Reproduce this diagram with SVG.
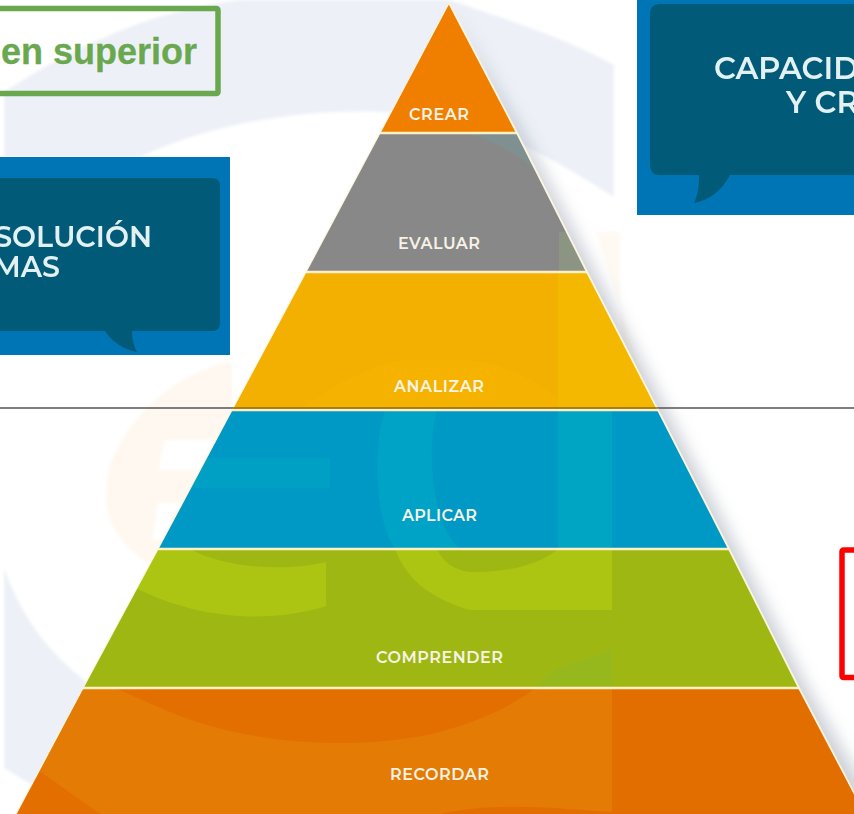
<svg xmlns="http://www.w3.org/2000/svg" width="854" height="814" viewBox="0 0 854 814">
  <style>
    .lbl{font-family:"Montserrat","Inter","Liberation Sans",sans-serif;font-weight:600;font-size:16px;fill:#f6f3e6;text-anchor:start}
    .box{font-family:"Montserrat","Inter","Open Sans",sans-serif;font-weight:600;font-size:28.500px;fill:#e4f1f3}
    .big{font-size:30.500px}
    .sep{stroke:#fdf0c4;stroke-width:2.4;fill:none}
  </style>
  <defs>
    <clipPath id="pyr"><polygon points="449,3 517,133 587,272 658,410 729,549 799,688 866,814 16,814 83,688 158,549 232,410 306,272 380,133"/></clipPath>
    <filter id="b1" x="-20%" y="-20%" width="140%" height="140%"><feGaussianBlur stdDeviation="0.5"/></filter>
    <filter id="b9" x="-20%" y="-20%" width="140%" height="140%"><feGaussianBlur stdDeviation="8"/></filter>
    <filter id="b2" x="-20%" y="-20%" width="140%" height="140%"><feGaussianBlur stdDeviation="1.5"/></filter>
  </defs>
  <rect width="854" height="814" fill="#fff"/>
  <g id="background">
    <path d="M4,157 L4,92 C90,35 170,8 240,0 L449,0 C510,20 570,40 614,65 L614,197 C570,170 510,130 440,118 C350,102 230,115 140,157 Z" fill="#edf1f7" filter="url(#b2)"/>
    <path d="M4,568 C30,640 70,670 110,700 L40,790 L4,768 Z" fill="#edf1f7" filter="url(#b2)"/>
    <path d="M232,362 C185,368 130,410 110,465 C98,510 112,540 150,565 L232,410 Z" fill="#fef8f0" filter="url(#b2)"/>
    <path d="M165,440 H215 L198,470 H158 Z M158,503 H180 L160,540 H152 Z" fill="#ffffff" filter="url(#b2)"/>
    <path d="M596,232 L620,232 L620,400 L650,400 Z" fill="#fef9f2" filter="url(#b2)"/>
    <polygon points="449,3 524,133 596,272 667,410 738,549 808,688 866,790 854,814 740,700 640,420 520,160" fill="#9ba3b0" opacity="0.5" filter="url(#b9)"/>
  </g>
  <g id="connectors">
    <line x1="0" y1="408" x2="854" y2="408" stroke="#555" stroke-width="1.6"/>
  </g>
  <g id="piramide">
    <g clip-path="url(#pyr)">
      <rect x="0" y="0" width="854" height="133" fill="#f07f00"/>
      <rect x="0" y="133" width="854" height="139" fill="#888888"/>
      <rect x="0" y="272" width="854" height="138" fill="#f4b000"/>
      <rect x="0" y="410" width="854" height="139" fill="#0098c4"/>
      <rect x="0" y="549" width="854" height="139" fill="#9fb713"/>
      <rect x="0" y="688" width="854" height="126" fill="#e37b05"/>

      <path d="M467,133 L520,133 L536,170 C515,152 490,140 467,133 Z" fill="#7f9090"/>
      <rect x="559" y="232" width="40" height="40" fill="#8c9484"/>
      <path d="M558,272 H670 V410 H558 Z" fill="#f5b800"/>
      <path d="M300,410 C340,380 390,355 427,360 C490,355 530,375 558,400 V410 Z" fill="#f5b300"/>

      <path d="M558,410 H612 V549 H558 Z" fill="#00a5c4"/>
      <path d="M385,410 H437 C428,440 428,520 460,549 H395 C375,520 372,450 385,410 Z" fill="#00a3c5"/>
      <path d="M200,458 H330 V488 H180 Z" fill="#009fc4"/>

      <path d="M150,549 H190 C225,568 285,572 326,562 V606 C270,624 195,620 130,585 Z" fill="#abc512"/>
      <path d="M395,549 C405,575 425,597 470,610 H612 V549 H558 C540,565 505,573 470,572 C452,570 442,560 437,549 Z" fill="#abc512"/>
      <path d="M557,668 L612,650 V688 H535 Z" fill="#97b81c"/>

      <path d="M115,688 H535 C510,708 470,725 427,735 C350,750 250,745 170,712 Z" fill="#e36f00"/>
      <path d="M612,688 H870 V814 H440 C500,800 570,810 612,812 Z" fill="#e36e00"/>
      <path d="M16,814 L40,772 C60,785 80,800 100,814 Z" fill="#e36f00"/>
    </g>
    <path class="sep" d="M380,133 H517 M306,272 H587 M232,410 H658 M158,549 H729 M83,688 H799"/>
    <path d="M449,3 L517,133 L587,272 L658,410 L729,549 L799,688 L860,804" fill="none" stroke="#fdf6df" stroke-width="1.8"/>
    <path d="M449,3 L380,133 L306,272 L232,410 L158,549 L83,688 L16,814" fill="none" stroke="#fdf6df" stroke-width="1.2"/>
    <line x1="232" y1="408" x2="658" y2="408" stroke="#8a6a20" stroke-width="1.4"/>
  </g>
  <g id="crear"><text class="lbl" x="409" y="120" textLength="60">CREAR</text></g>
  <g id="evaluar"><text class="lbl" x="398" y="248.500" textLength="82">EVALUAR</text></g>
  <g id="analizar"><text class="lbl" x="394" y="391.500" textLength="90">ANALIZAR</text></g>
  <g id="aplicar"><text class="lbl" x="402" y="520.500" textLength="75">APLICAR</text></g>
  <g id="comprender"><text class="lbl" x="376" y="663" textLength="127">COMPRENDER</text></g>
  <g id="recordar"><text class="lbl" x="390" y="780" textLength="99">RECORDAR</text></g>

  <g id="orden-superior">
    <rect x="-6" y="8.500" width="224" height="85" rx="1.500" fill="none" stroke="#6aa84f" stroke-width="5.500"/>
    <text x="197" y="64" text-anchor="end" font-family="Liberation Sans, Arial, sans-serif" font-weight="700" font-size="36" fill="#6aa84f" stroke="#6aa84f" stroke-width="0.3">en superior</text>
  </g>
  <g id="resolucion">
    <rect x="0" y="157" width="230" height="198" fill="#0075b5"/>
    <path d="M-10,178 H212 Q220,178 220,186 V323 Q220,331 212,331 H132 C132,340 134,346 137,352 C125,350 112,342 105,331 H-10 Z" fill="#005a78"/>
    <g filter="url(#b1)">
      <text class="box" x="152" y="247" text-anchor="end">SOLUCIÓN</text>
      <text class="box" x="60" y="277" text-anchor="end">MAS</text>
    </g>
  </g>
  <g id="capacidad">
    <rect x="637" y="0" width="217" height="215" fill="#0075b5"/>
    <path d="M660,4 H860 V175 H730 C722,190 710,200 694,203 C698,195 699,185 699,175 H660 Q650,175 650,165 V14 Q650,4 660,4 Z" fill="#005a78"/>
    <g filter="url(#b1)">
      <text class="box big" x="714" y="79">CAPACID</text>
      <text class="box big" x="786" y="113">Y CR</text>
    </g>
  </g>
  <g id="recuadro-rojo">
    <rect x="842" y="550" width="30" height="127.500" rx="1.500" fill="none" stroke="#ff0000" stroke-width="5.500"/>
  </g>
</svg>
